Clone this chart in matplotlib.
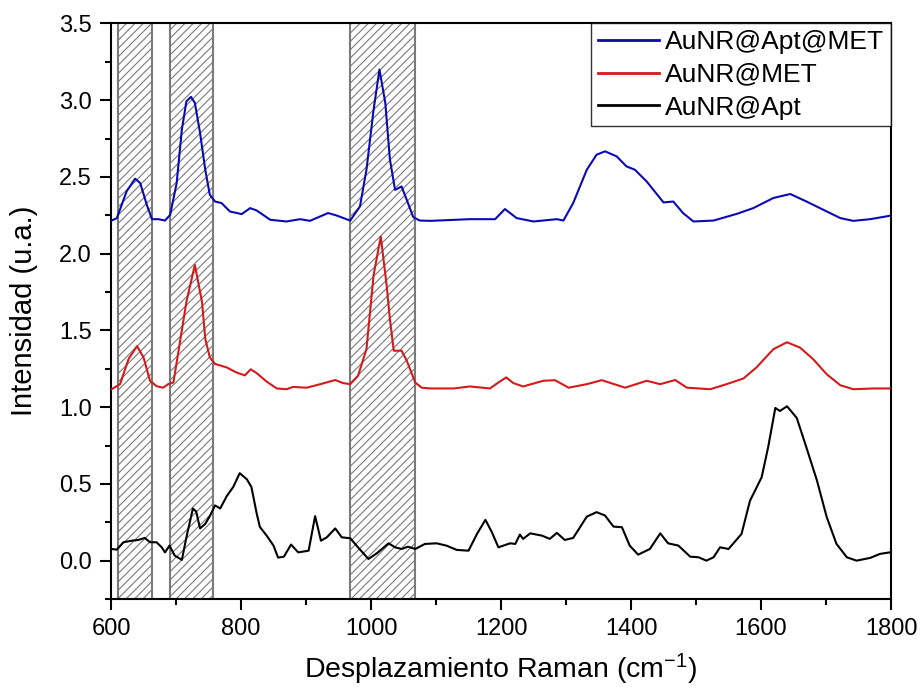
import numpy as np
import matplotlib
matplotlib.use('Agg')
import matplotlib.pyplot as plt
from matplotlib.ticker import MultipleLocator

plt.rcParams['font.family'] = ['Liberation Sans', 'DejaVu Sans']
plt.rcParams['mathtext.fontset'] = 'custom'
plt.rcParams['mathtext.rm'] = 'Liberation Sans'
plt.rcParams['mathtext.default'] = 'rm'
plt.rcParams['hatch.linewidth'] = 0.8

# Espectros Raman (x en cm-1, intensidad en u.a.)
x_apt_met = [601, 609, 624, 637, 645, 655, 663, 673, 683, 691, 701, 709, 716, 723, 729,
             737, 745, 752, 760, 770, 783, 801, 814, 824, 845, 870, 891, 906, 934, 947,
             968, 983, 993, 1004, 1013, 1022, 1029, 1037, 1047, 1055, 1065, 1075, 1091,
             1152, 1191, 1206, 1224, 1250, 1286, 1296, 1311, 1332, 1347, 1360, 1378,
             1393, 1406, 1424, 1450, 1465, 1480, 1496, 1527, 1563, 1588, 1619, 1645,
             1670, 1696, 1722, 1742, 1768, 1798]
y_apt_met = [2.216, 2.232, 2.406, 2.489, 2.460, 2.319, 2.225, 2.225, 2.216, 2.253, 2.460,
             2.809, 2.993, 3.022, 2.983, 2.787, 2.547, 2.384, 2.340, 2.330, 2.275, 2.258,
             2.297, 2.282, 2.221, 2.210, 2.225, 2.214, 2.265, 2.249, 2.216, 2.308, 2.547,
             2.939, 3.200, 2.983, 2.616, 2.416, 2.438, 2.351, 2.238, 2.216, 2.214, 2.225,
             2.225, 2.291, 2.232, 2.210, 2.225, 2.216, 2.330, 2.547, 2.645, 2.667, 2.634,
             2.569, 2.547, 2.471, 2.334, 2.340, 2.265, 2.210, 2.216, 2.260, 2.297, 2.363,
             2.389, 2.340, 2.286, 2.232, 2.214, 2.225, 2.247]

x_met = [601, 614, 627, 640, 650, 660, 670, 680, 688, 696, 706, 716, 729, 740, 745, 752,
         760, 778, 793, 806, 815, 824, 840, 855, 870, 880, 901, 922, 945, 957, 968, 980,
         993, 1004, 1015, 1024, 1029, 1035, 1047, 1055, 1068, 1078, 1091, 1127, 1152,
         1183, 1196, 1208, 1219, 1234, 1265, 1283, 1304, 1332, 1355, 1391, 1424, 1445,
         1468, 1486, 1522, 1547, 1573, 1593, 1619, 1640, 1660, 1680, 1701, 1722, 1742,
         1773, 1798]
y_met = [1.117, 1.150, 1.314, 1.398, 1.325, 1.172, 1.137, 1.127, 1.150, 1.161, 1.423,
         1.686, 1.927, 1.686, 1.446, 1.325, 1.282, 1.259, 1.226, 1.207, 1.247, 1.222,
         1.165, 1.122, 1.117, 1.132, 1.127, 1.150, 1.177, 1.157, 1.150, 1.204, 1.378,
         1.861, 2.112, 1.796, 1.576, 1.368, 1.368, 1.303, 1.161, 1.127, 1.122, 1.122,
         1.135, 1.122, 1.161, 1.194, 1.157, 1.135, 1.172, 1.176, 1.127, 1.150, 1.176,
         1.127, 1.172, 1.150, 1.177, 1.127, 1.117, 1.150, 1.187, 1.259, 1.378, 1.423,
         1.388, 1.314, 1.215, 1.143, 1.117, 1.122, 1.122]

x_apt = [601, 609, 619, 632, 642, 652, 660, 670, 678, 683, 690, 698, 709, 716, 726, 731,
         737, 745, 752, 760, 768, 778, 788, 798, 809, 816, 824, 829, 840, 850, 857, 866,
         877, 888, 904, 914, 923, 932, 945, 955, 968, 980, 996, 1009, 1027, 1037, 1047,
         1057, 1068, 1083, 1101, 1116, 1132, 1150, 1163, 1176, 1186, 1196, 1214, 1222,
         1229, 1234, 1245, 1263, 1275, 1286, 1298, 1311, 1332, 1347, 1360, 1373, 1386,
         1398, 1411, 1429, 1445, 1457, 1473, 1491, 1504, 1516, 1527, 1537, 1550, 1570,
         1583, 1601, 1611, 1622, 1629, 1640, 1655, 1670, 1686, 1701, 1716, 1732, 1747,
         1768, 1783, 1798]
y_apt = [0.076, 0.072, 0.120, 0.130, 0.135, 0.148, 0.120, 0.120, 0.087, 0.054, 0.098,
         0.033, 0.005, 0.152, 0.340, 0.320, 0.210, 0.240, 0.290, 0.360, 0.340, 0.420,
         0.480, 0.570, 0.530, 0.480, 0.310, 0.220, 0.160, 0.098, 0.020, 0.026, 0.105,
         0.054, 0.065, 0.290, 0.130, 0.152, 0.210, 0.152, 0.146, 0.087, 0.011, 0.048,
         0.113, 0.087, 0.076, 0.091, 0.076, 0.109, 0.113, 0.098, 0.070, 0.065, 0.174,
         0.266, 0.185, 0.087, 0.113, 0.109, 0.170, 0.142, 0.178, 0.163, 0.142, 0.181,
         0.135, 0.148, 0.287, 0.316, 0.294, 0.222, 0.218, 0.098, 0.039, 0.076, 0.178,
         0.113, 0.098, 0.026, 0.022, 0.000, 0.022, 0.087, 0.076, 0.174, 0.390, 0.544,
         0.740, 0.995, 0.975, 1.006, 0.930, 0.735, 0.523, 0.285, 0.110, 0.022, 0.000,
         0.018, 0.044, 0.054]

# Zonas sombreadas (cm-1)
band_start = [610, 691, 968]
band_end = [663, 757, 1068]

fig = plt.figure(figsize=(9.22, 6.93), dpi=100)
ax = fig.add_axes([0.1204, 0.1356, 0.846, 0.8305])

for a, b in zip(band_start, band_end):
    ax.axvspan(a, b, facecolor='white', edgecolor='#7a7a7a', hatch='////',
               linewidth=1.5, zorder=1)

ax.plot(x_apt_met, y_apt_met, color='#0a0ab4', lw=1.5, label='AuNR@Apt@MET', zorder=3)
ax.plot(x_met, y_met, color='#d41a1a', lw=1.5, label='AuNR@MET', zorder=3)
ax.plot(x_apt, y_apt, color='black', lw=1.5, label='AuNR@Apt', zorder=3)

ax.set_xlim(600, 1800)
ax.set_ylim(-0.25, 3.5)
ax.xaxis.set_major_locator(MultipleLocator(200))
ax.xaxis.set_minor_locator(MultipleLocator(100))
ax.yaxis.set_major_locator(MultipleLocator(0.5))
ax.yaxis.set_minor_locator(MultipleLocator(0.25))
ax.yaxis.set_major_formatter(plt.FormatStrFormatter('%.1f'))
ax.tick_params(which='major', direction='out', length=8, width=1.5, labelsize=17, pad=6)
ax.tick_params(which='minor', direction='out', length=4.5, width=1.5)
for s in ax.spines.values():
    s.set_linewidth(1.5)

ax.set_xlabel('Desplazamiento Raman (cm$^{-1}$)', fontsize=20.5, labelpad=8)
ax.set_ylabel('Intensidad (u.a.)', fontsize=21, labelpad=15)

leg = ax.legend(loc='upper right', bbox_to_anchor=(1.0, 1.0), fontsize=19,
                fancybox=False, frameon=True, borderaxespad=0.0, borderpad=0.25,
                handlelength=2.3, handletextpad=0.25, labelspacing=0.33)
leg.get_frame().set_edgecolor('black')
leg.get_frame().set_linewidth(1.0)
for line in leg.get_lines():
    line.set_linewidth(2.0)

fig.savefig('out.png', dpi=100)
